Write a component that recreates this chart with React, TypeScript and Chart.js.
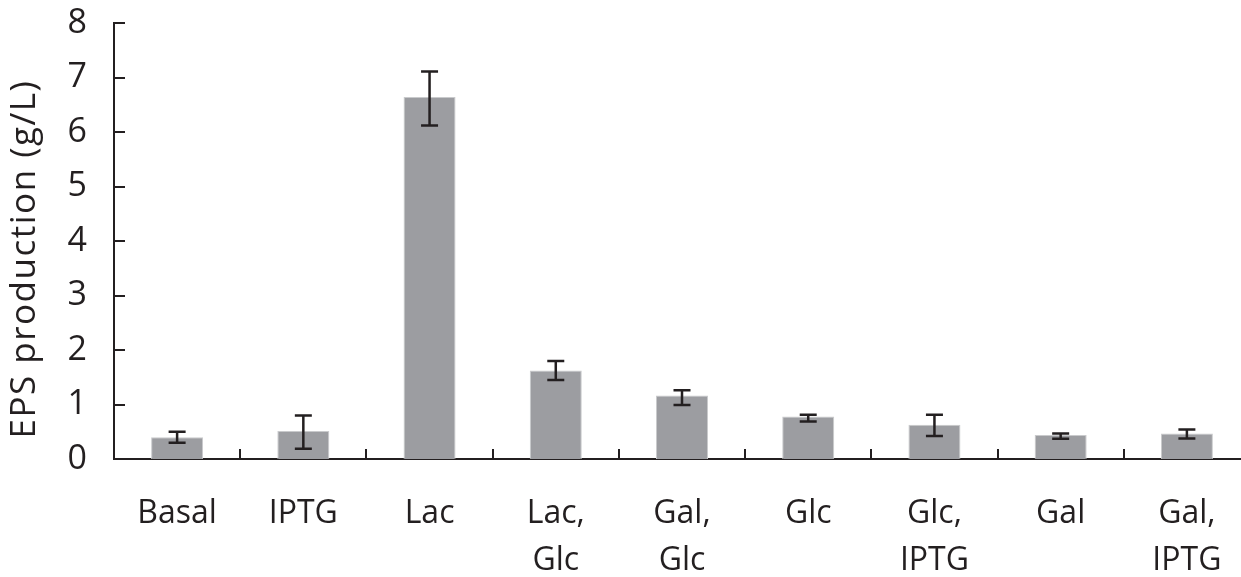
import React, { useEffect, useRef } from "react";
import { Chart, registerables } from "chart.js";

Chart.register(...registerables);

const categories: string[][] = [
  ["Basal"],
  ["IPTG"],
  ["Lac"],
  ["Lac,", "Glc"],
  ["Gal,", "Glc"],
  ["Glc"],
  ["Glc,", "IPTG"],
  ["Gal"],
  ["Gal,", "IPTG"],
];
const epsValues = [0.4, 0.515, 6.64, 1.625, 1.165, 0.78, 0.63, 0.44, 0.47];
const errHigh = [0.5, 0.8, 7.11, 1.8, 1.26, 0.81, 0.81, 0.47, 0.54];
const errLow = [0.3, 0.19, 6.12, 1.45, 0.99, 0.69, 0.42, 0.37, 0.375];
const yTickValues = [0, 1, 2, 3, 4, 5, 6, 7, 8];
const yTitle = "EPS production (g/L)";

const INK = "#231f20";
const FONT = "'Open Sans', 'Noto Sans', sans-serif";

const decorPlugin = {
  id: "decor",
  afterDatasetsDraw(chart: any) {
    const { ctx, chartArea, scales } = chart;
    const x = scales.x;
    const y = scales.y;
    ctx.save();
    ctx.strokeStyle = INK;
    ctx.lineWidth = 2;
    // inward y ticks
    yTickValues.forEach((v) => {
      const py = Math.round(y.getPixelForValue(v));
      ctx.beginPath();
      ctx.moveTo(chartArea.left, py);
      ctx.lineTo(chartArea.left + 11, py);
      ctx.stroke();
    });
    // inward x ticks between categories
    for (let i = 1; i < categories.length; i++) {
      const px = Math.round((x.getPixelForValue(i - 1) + x.getPixelForValue(i)) / 2);
      ctx.beginPath();
      ctx.moveTo(px, chartArea.bottom);
      ctx.lineTo(px, chartArea.bottom - 10);
      ctx.stroke();
    }
    // error bars
    ctx.lineWidth = 2.5;
    epsValues.forEach((_, i) => {
      const px = x.getPixelForValue(i);
      const hi = y.getPixelForValue(errHigh[i]);
      const lo = y.getPixelForValue(errLow[i]);
      ctx.beginPath();
      ctx.moveTo(px, hi);
      ctx.lineTo(px, lo);
      ctx.moveTo(px - 8.5, hi);
      ctx.lineTo(px + 8.5, hi);
      ctx.moveTo(px - 8.5, lo);
      ctx.lineTo(px + 8.5, lo);
      ctx.stroke();
    });
    // y axis title
    ctx.translate(35, 259);
    ctx.rotate(-Math.PI / 2);
    ctx.fillStyle = INK;
    ctx.font = `35px ${FONT}`;
    try {
      (ctx as any).letterSpacing = "1.5px";
    } catch (e) {}
    ctx.textAlign = "center";
    ctx.textBaseline = "alphabetic";
    ctx.fillText(yTitle, 0, 0);
    ctx.restore();
  },
};

export default function App() {
  const ref = useRef<HTMLCanvasElement | null>(null);
  useEffect(() => {
    if (!ref.current) return;
    const chart = new Chart(ref.current, {
      type: "bar",
      data: {
        labels: categories,
        datasets: [
          {
            data: epsValues,
            backgroundColor: "#9c9da1",
            borderColor: "#c9cacc",
            borderWidth: 1,
            barPercentage: 0.412,
            categoryPercentage: 1,
          },
        ],
      },
      options: {
        animation: false,
        responsive: false,
        devicePixelRatio: 1,
        layout: { padding: { left: 0, top: 23, right: 10, bottom: 0 } },
        plugins: {
          legend: { display: false },
          tooltip: { enabled: false },
          title: { display: false },
        },
        scales: {
          x: {
            grid: { display: false, drawTicks: false, tickLength: 0 },
            border: { display: true, color: INK, width: 2 },
            ticks: {
              color: INK,
              font: { family: FONT, size: 32, lineHeight: 1.48 },
              padding: 31,
              maxRotation: 0,
              autoSkip: false,
            },
            afterFit(scale: any) {
              scale.height = 118;
            },
          },
          y: {
            min: 0,
            max: 8,
            grid: { display: false, drawTicks: true, tickLength: 27, tickColor: "rgba(0,0,0,0)" },
            border: { display: true, color: INK, width: 2 },
            ticks: {
              color: INK,
              stepSize: 1,
              font: { family: FONT, size: 34, lineHeight: 1.2 },
              padding: 0,
            },
            afterFit(scale: any) {
              scale.width = 114;
            },
          },
        },
      },
      plugins: [decorPlugin],
    });
    return () => chart.destroy();
  }, []);
  return (
    <div
      style={{
        position: "fixed",
        left: 0,
        top: 0,
        width: 1241,
        height: 577,
        overflow: "hidden",
        background: "#fff",
      }}
    >
      <canvas ref={ref} width={1260} height={577} style={{ display: "block", width: 1260, height: 577 }} />
    </div>
  );
}
